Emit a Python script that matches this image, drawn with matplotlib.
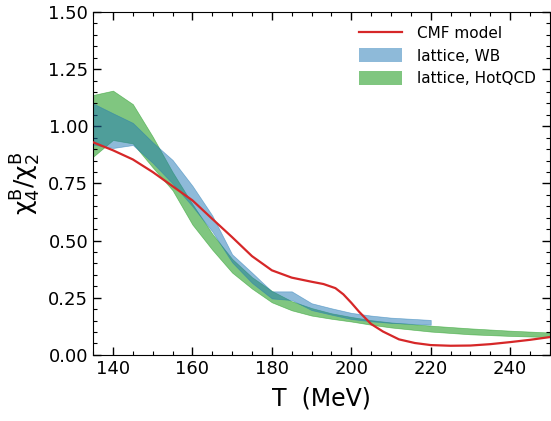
import numpy as np
import matplotlib
matplotlib.use("Agg")
import matplotlib.pyplot as plt
from matplotlib.lines import Line2D
from matplotlib.patches import Patch
from matplotlib.ticker import MultipleLocator

plt.rcParams['font.family'] = 'DejaVu Sans'
plt.rcParams['mathtext.fontset'] = 'dejavusans'

# CMF model curve
T_cmf = [135, 140, 145, 150, 155, 160, 165, 170, 175, 180, 185, 190, 193,
         196, 198, 200, 202, 205, 208, 212, 216, 220, 225, 230, 235, 240, 245, 250]
chi_cmf = [0.930, 0.895, 0.855, 0.800, 0.738, 0.676, 0.595, 0.515, 0.432, 0.370,
           0.338, 0.320, 0.310, 0.292, 0.265, 0.228, 0.188, 0.135, 0.102, 0.068,
           0.052, 0.043, 0.040, 0.041, 0.047, 0.056, 0.066, 0.078]

# lattice, WB band
T_wb = [135, 140, 145, 150, 155, 160, 165, 170, 175, 180, 185, 190, 195, 200, 205, 210, 215, 220]
wb_hi = [1.100, 1.057, 1.015, 0.930, 0.853, 0.740, 0.610, 0.440, 0.360, 0.278, 0.278,
         0.226, 0.204, 0.184, 0.172, 0.163, 0.158, 0.153]
wb_lo = [0.920, 0.905, 0.918, 0.840, 0.750, 0.650, 0.540, 0.405, 0.315, 0.247, 0.240,
         0.196, 0.176, 0.157, 0.147, 0.140, 0.136, 0.132]

# lattice, HotQCD band
T_hot = [135, 140, 145, 150, 155, 160, 165, 170, 175, 180, 185, 190, 195, 200,
         205, 210, 220, 230, 240, 250]
hot_hi = [1.137, 1.156, 1.097, 0.955, 0.800, 0.660, 0.530, 0.420, 0.340, 0.280, 0.235,
          0.205, 0.182, 0.166, 0.152, 0.142, 0.128, 0.116, 0.106, 0.098]
hot_lo = [0.867, 0.940, 0.925, 0.820, 0.720, 0.570, 0.460, 0.360, 0.290, 0.230, 0.195,
          0.172, 0.158, 0.146, 0.132, 0.120, 0.102, 0.090, 0.083, 0.078]

fig = plt.figure(figsize=(5.51, 4.21), dpi=100)
ax = fig.add_axes([0.169, 0.157, 0.829, 0.8145])

ax.fill_between(T_hot, hot_lo, hot_hi, color='tab:green', alpha=0.6, lw=0.5, zorder=1)
ax.fill_between(T_wb, wb_lo, wb_hi, color='tab:blue', alpha=0.5, lw=0.5, zorder=2)
ax.plot(T_cmf, chi_cmf, color='tab:red', lw=1.6, zorder=3)

ax.set_xlim(135, 250)
ax.set_ylim(0, 1.5)
ax.xaxis.set_major_locator(MultipleLocator(20))
ax.xaxis.set_minor_locator(MultipleLocator(5))
ax.yaxis.set_major_locator(MultipleLocator(0.25))
ax.yaxis.set_minor_locator(MultipleLocator(0.05))
ax.yaxis.set_major_formatter(matplotlib.ticker.FormatStrFormatter('%.2f'))
ax.tick_params(which='both', direction='in', top=True, right=True, labelsize=13)
ax.tick_params(which='major', length=6, width=1)
ax.tick_params(which='minor', length=3, width=0.8)

ax.set_xlabel('T  (MeV)', fontsize=17, labelpad=6)
ax.set_ylabel(r'$\mathrm{\chi}_4^{\mathrm{B}}/\mathrm{\chi}_2^{\mathrm{B}}$', fontsize=18, labelpad=4)

handles = [Line2D([], [], color='tab:red', lw=1.6),
           Patch(facecolor='tab:blue', alpha=0.5),
           Patch(facecolor='tab:green', alpha=0.6)]
labels = ['CMF model', 'lattice, WB', 'lattice, HotQCD']
ax.legend(handles, labels, loc='upper right', frameon=False, fontsize=11,
          handlelength=2.8, handleheight=1.0, handletextpad=1.0,
          labelspacing=0.5, borderaxespad=0.5)

plt.savefig('out.png', dpi=100)
